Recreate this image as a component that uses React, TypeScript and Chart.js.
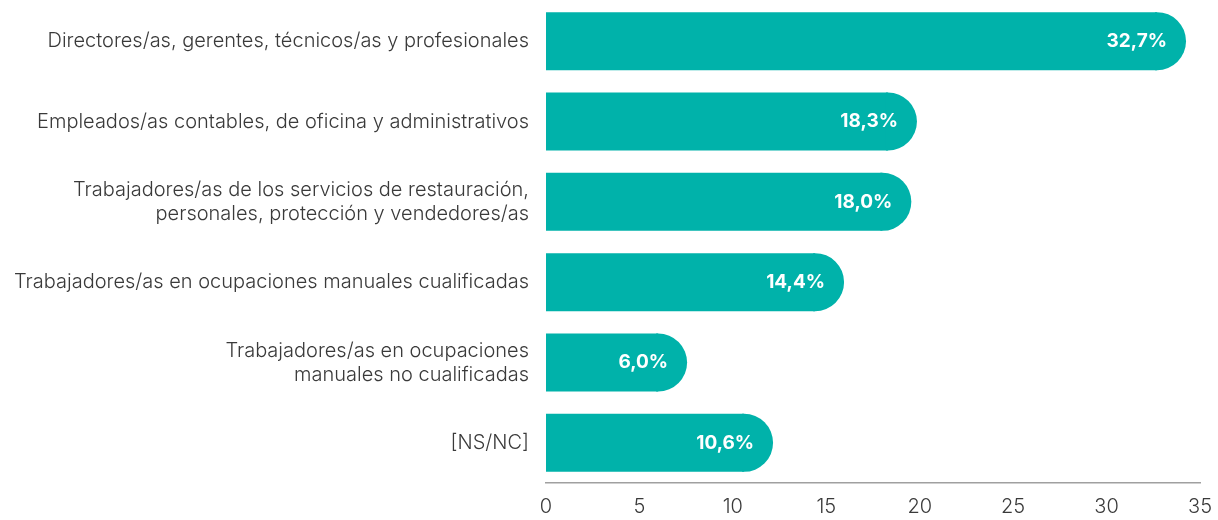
import React, { useEffect, useRef } from "react";
import { Chart, registerables } from "chart.js";

Chart.register(...registerables);

const categories: (string | string[])[] = [
  "Directores/as, gerentes, técnicos/as y profesionales",
  "Empleados/as contables, de oficina y administrativos",
  ["Trabajadores/as de los servicios de restauración,", "personales, protección y vendedores/as"],
  "Trabajadores/as en ocupaciones manuales cualificadas",
  ["Trabajadores/as en ocupaciones", "manuales no cualificadas"],
  "[NS/NC]",
];
const values: number[] = [32.7, 18.3, 18.0, 14.4, 6.0, 10.6];
const xTicks: number[] = [0, 5, 10, 15, 20, 25, 30, 35];

const BAR_COLOR = "#00b2aa";
const TEXT_COLOR = "#3a3a3a";
const FONT = "Inter";

const capsAndLabels = {
  id: "capsAndLabels",
  afterDatasetsDraw(chart: any) {
    const ctx = chart.ctx;
    const meta = chart.getDatasetMeta(0);
    ctx.save();
    meta.data.forEach((bar: any, i: number) => {
      const r = bar.height / 2;
      ctx.fillStyle = BAR_COLOR;
      ctx.beginPath();
      ctx.moveTo(bar.x - 2, bar.y - r);
      ctx.lineTo(bar.x, bar.y - r);
      ctx.arc(bar.x, bar.y, r, -Math.PI / 2, Math.PI / 2);
      ctx.lineTo(bar.x - 2, bar.y + r);
      ctx.closePath();
      ctx.fill();
      ctx.fillStyle = "#ffffff";
      ctx.font = `bold 19px ${FONT}`;
      ctx.textAlign = "right";
      ctx.textBaseline = "middle";
      ctx.fillText(values[i].toFixed(1).replace(".", ",") + "%", bar.x + 10, bar.y);
    });
    ctx.restore();
  },
};

export default function App() {
  const ref = useRef<HTMLCanvasElement | null>(null);
  useEffect(() => {
    document.body.style.margin = "0";
    const chart = new Chart(ref.current!, {
      type: "bar",
      data: {
        labels: categories,
        datasets: [
          {
            data: values,
            backgroundColor: BAR_COLOR,
            borderWidth: 0,
            barPercentage: 0.722,
            categoryPercentage: 1,
          },
        ],
      },
      options: {
        indexAxis: "y",
        animation: false,
        responsive: false,
        layout: { padding: { top: 1, right: 18, left: 0, bottom: 0 } },
        plugins: { legend: { display: false }, tooltip: { enabled: false } },
        scales: {
          x: {
            min: 0,
            max: 35,
            afterBuildTicks: (scale: any) => {
              scale.ticks = xTicks.map((v) => ({ value: v }));
            },
            grid: { display: false, drawTicks: false },
            border: { display: true, color: "#a0a0a0", width: 1.5 },
            ticks: {
              padding: 12,
              color: TEXT_COLOR,
              font: { family: FONT, size: 20, weight: "300" },
            },
            afterFit: (scale: any) => {
              scale.height = 37;
              scale.paddingLeft = 0;
              scale.paddingRight = 0;
            },
          },
          y: {
            grid: { display: false, drawTicks: false },
            border: { display: false },
            ticks: {
              padding: 17,
              color: TEXT_COLOR,
              font: { family: FONT, size: 20, weight: "300", lineHeight: 1.2 },
            },
            afterFit: (scale: any) => {
              scale.width = 546;
              scale.paddingTop = 0;
              scale.paddingBottom = 0;
            },
          },
        },
      },
      plugins: [capsAndLabels],
    } as any);
    return () => chart.destroy();
  }, []);
  return (
    <div style={{ position: "absolute", left: 0, top: 0, width: 1218, height: 520 }}>
      <canvas ref={ref} width={1218} height={520} style={{ width: 1218, height: 520 }} />
    </div>
  );
}
